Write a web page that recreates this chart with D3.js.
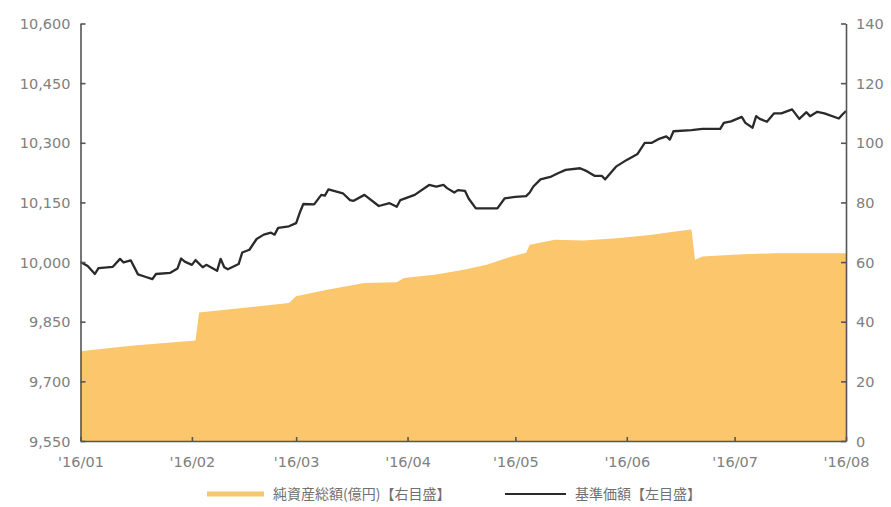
<!DOCTYPE html>
<html>
<head>
<meta charset="utf-8">
<script src="https://cdn.jsdelivr.net/npm/d3@7"></script>
<style>
  html, body { margin: 0; padding: 0; background: #fff; }
  svg { display: block; }
  .tick text { font-family: "DejaVu Sans", sans-serif; }
</style>
</head>
<body>
<div id="chart"></div>
<script>

// 基準価額 (left axis)
const navDates = [
  "2016-01-01","2016-01-03","2016-01-05","2016-01-06","2016-01-10","2016-01-12","2016-01-13","2016-01-15",
  "2016-01-17","2016-01-19","2016-01-21","2016-01-22","2016-01-26","2016-01-28","2016-01-29","2016-01-30",
  "2016-02-01","2016-02-02","2016-02-04","2016-02-05","2016-02-08","2016-02-09","2016-02-10","2016-02-11",
  "2016-02-14","2016-02-15","2016-02-17","2016-02-19","2016-02-21","2016-02-23","2016-02-24","2016-02-25",
  "2016-02-28","2016-03-01","2016-03-02","2016-03-03","2016-03-06","2016-03-08","2016-03-09","2016-03-10",
  "2016-03-14","2016-03-16","2016-03-17","2016-03-20","2016-03-24","2016-03-27","2016-03-29","2016-03-30",
  "2016-04-03","2016-04-07","2016-04-09","2016-04-11","2016-04-12","2016-04-14","2016-04-15","2016-04-17",
  "2016-04-18","2016-04-20","2016-04-26","2016-04-28","2016-05-01","2016-05-04","2016-05-05","2016-05-06",
  "2016-05-08","2016-05-11","2016-05-13","2016-05-15","2016-05-19","2016-05-21","2016-05-23","2016-05-25",
  "2016-05-26","2016-05-29","2016-06-01","2016-06-04","2016-06-06","2016-06-08","2016-06-10","2016-06-12",
  "2016-06-13","2016-06-14","2016-06-19","2016-06-22","2016-06-27","2016-06-28","2016-06-30","2016-07-03",
  "2016-07-04","2016-07-06","2016-07-07","2016-07-08","2016-07-10","2016-07-12","2016-07-14","2016-07-17",
  "2016-07-19","2016-07-21","2016-07-22","2016-07-24","2016-07-26","2016-07-30","2016-07-31","2016-08-01"
];
const navValues = [
  10000, 9990, 9970, 9985, 9988, 10008, 9999, 10004,
  9969, 9963, 9957, 9970, 9973, 9984, 10009, 10001,
  9993, 10005, 9987, 9993, 9978, 10008, 9987, 9982,
  9995, 10024, 10031, 10058, 10069, 10074, 10069, 10086,
  10090, 10098, 10124, 10146, 10145, 10169, 10167, 10183,
  10173, 10156, 10154, 10169, 10141, 10148, 10139, 10156,
  10169, 10194, 10190, 10194, 10186, 10175, 10181, 10179,
  10160, 10135, 10135, 10160, 10164, 10166, 10175, 10190,
  10208, 10215, 10224, 10232, 10236, 10228, 10217, 10217,
  10208, 10240, 10257, 10272, 10300, 10300, 10310, 10316,
  10308, 10329, 10332, 10335, 10335, 10350, 10354, 10365,
  10350, 10338, 10367, 10360, 10353, 10374, 10374, 10384,
  10360, 10377, 10367, 10378, 10374, 10361, 10371, 10380
];

// 純資産総額 (億円, right axis)
const aumDates = [
  "2016-01-01","2016-01-15","2016-02-02","2016-02-03","2016-02-15","2016-02-28","2016-03-01","2016-03-10",
  "2016-03-20","2016-03-29","2016-03-31","2016-04-09","2016-04-17","2016-04-23","2016-04-30","2016-05-04",
  "2016-05-05","2016-05-12","2016-05-20","2016-05-30","2016-06-08","2016-06-15","2016-06-19","2016-06-20",
  "2016-06-22","2016-07-02","2016-07-12","2016-07-22","2016-08-01"
];
const aumValues = [
  30.1, 31.9, 33.7, 43.1, 44.6, 46.3, 48.5, 50.8,
  53.0, 53.2, 54.7, 55.8, 57.5, 59.1, 61.9, 63.1,
  65.8, 67.5, 67.2, 68.1, 69.2, 70.3, 70.9, 60.8,
  61.9, 62.5, 63.0, 63.0, 63.0
];

const leftTicks = [9550, 9700, 9850, 10000, 10150, 10300, 10450, 10600];
const rightTicks = [0, 20, 40, 60, 80, 100, 120, 140];
const monthTicks = ["2016-01-01","2016-02-01","2016-03-01","2016-04-01","2016-05-01","2016-06-01","2016-07-01","2016-08-01"];
const monthLabels = ["'16/01","'16/02","'16/03","'16/04","'16/05","'16/06","'16/07","'16/08"];
const legendLabels = ["純資産総額(億円)【右目盛】", "基準価額【左目盛】"];

const width = 891;
const height = 507;
const margin = {left: 80.5, right: 45, top: 23.5, bottom: 66};

const parse = d3.timeParse("%Y-%m-%d");

const svg = d3.select("#chart")
  .append("svg")
  .attr("width", width)
  .attr("height", height);

let x = d3.scaleTime()
  .domain([parse(monthTicks[0]), parse(monthTicks[monthTicks.length - 1])])
  .range([margin.left, width - margin.right]);

let yLeft = d3.scaleLinear()
  .domain([9550, 10600])
  .range([height - margin.bottom, margin.top]);

let yRight = d3.scaleLinear()
  .domain([0, 140])
  .range([height - margin.bottom, margin.top]);

// area for total net assets
const aum = aumDates.map((d, i) => ({date: parse(d), value: aumValues[i]}));
svg.append("path")
  .datum(aum)
  .attr("fill", "#fbc66c")
  .attr("d", d3.area()
    .x(d => x(d.date))
    .y0(yRight(0))
    .y1(d => yRight(d.value)));

// line for NAV
const nav = navDates.map((d, i) => ({date: parse(d), value: navValues[i]}));
svg.append("path")
  .datum(nav)
  .attr("fill", "none")
  .attr("stroke", "#2a2a2a")
  .attr("stroke-width", 2.3)
  .attr("stroke-linejoin", "round")
  .attr("d", d3.line()
    .x(d => x(d.date))
    .y(d => yLeft(d.value)));

// axes - ticks point inward
const axisColor = "#555";
const labelColor = "#808080";

const gLeft = svg.append("g")
  .attr("transform", `translate(${margin.left},0)`)
  .call(d3.axisLeft(yLeft).tickValues(leftTicks).tickFormat(d3.format(",")).tickSizeInner(-5).tickSizeOuter(0).tickPadding(10));

const gRight = svg.append("g")
  .attr("transform", `translate(${width - margin.right},0)`)
  .call(d3.axisRight(yRight).tickValues(rightTicks).tickSizeInner(-5).tickSizeOuter(0).tickPadding(10));

const gBottom = svg.append("g")
  .attr("transform", `translate(0,${height - margin.bottom})`)
  .call(d3.axisBottom(x).tickValues(monthTicks.map(parse))
    .tickFormat((d, i) => monthLabels[i]).tickSizeInner(-4).tickSizeOuter(0).tickPadding(16));

[gLeft, gRight, gBottom].forEach(g => {
  g.select(".domain").attr("stroke", axisColor).attr("stroke-width", 1.6);
  g.selectAll(".tick line").attr("stroke", axisColor).attr("stroke-width", 1.6);
  g.selectAll(".tick text").attr("fill", labelColor).attr("font-size", "14.5px");
});
gLeft.selectAll(".tick text").attr("dy", "0.35em");
gRight.selectAll(".tick text").attr("dy", "0.35em");

// legend
const legendY = 494;
const legend = svg.append("g").attr("font-family", "'Noto Sans CJK JP', sans-serif").attr("font-size", "14px");

legend.append("line")
  .attr("x1", 207).attr("x2", 264)
  .attr("y1", legendY).attr("y2", legendY)
  .attr("stroke", "#f5c86e").attr("stroke-width", 5);
legend.append("text")
  .attr("x", 273).attr("y", legendY)
  .attr("dy", "0.35em")
  .attr("fill", "#707070")
  .text(legendLabels[0]);

legend.append("line")
  .attr("x1", 505).attr("x2", 566)
  .attr("y1", legendY).attr("y2", legendY)
  .attr("stroke", "#2a2a2a").attr("stroke-width", 2);
legend.append("text")
  .attr("x", 575).attr("y", legendY)
  .attr("dy", "0.35em")
  .attr("fill", "#707070")
  .text(legendLabels[1]);

</script>
</body>
</html>
